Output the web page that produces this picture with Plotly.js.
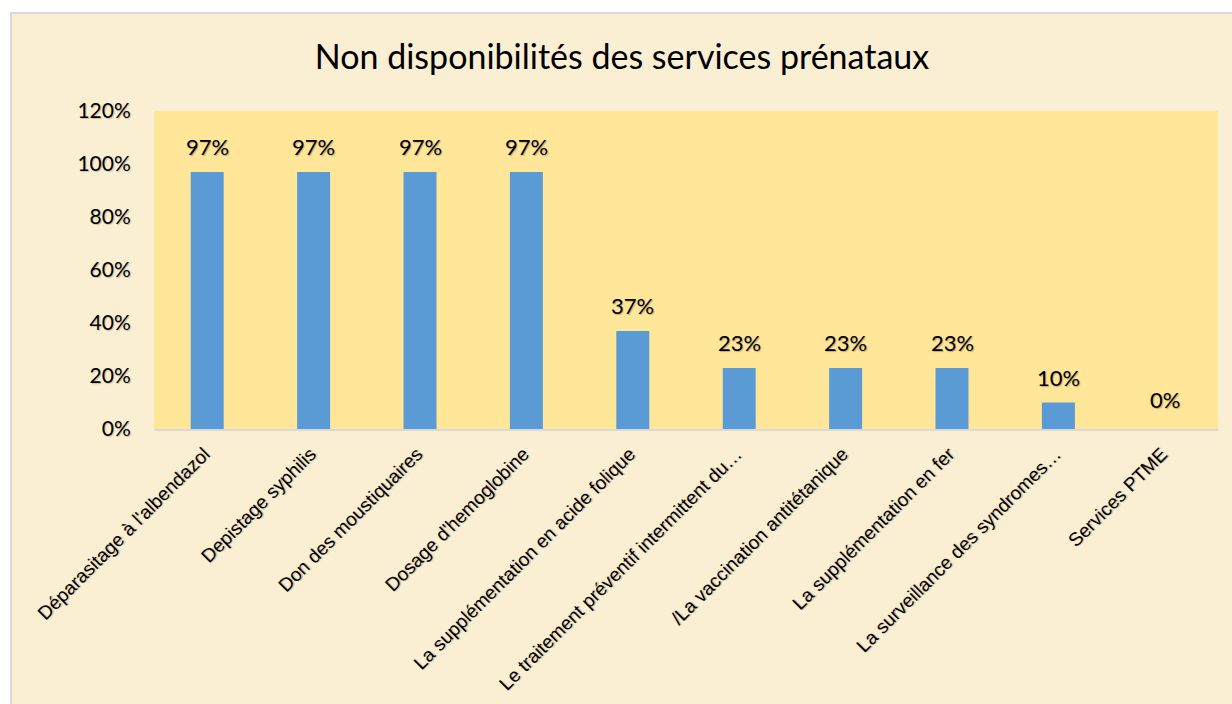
<!DOCTYPE html>
<html>
<head>
<meta charset="utf-8">
<script src="https://cdn.plot.ly/plotly-3.0.1.min.js"></script>
<style>
  html, body { margin: 0; padding: 0; background: #ffffff; width: 1232px; height: 704px; overflow: hidden; }
  #frame { position: absolute; left: 10px; top: 12px; width: 1222px; height: 692px; box-sizing: border-box; border-left: 2px solid #d9d9d9; border-top: 2px solid #d9d9d9; background: #FAEED3; }
  #chart { position: absolute; left: 0; top: 0; width: 1220px; height: 690px; }
</style>
</head>
<body>
<div id="frame"><div id="chart"></div></div>
<script>
const categories = [
  "Déparasitage à l'albendazol",
  "Depistage syphilis",
  "Don des moustiquaires",
  "Dosage d'hemoglobine",
  "La supplémentation en acide folique",
  "Le traitement préventif intermittent du…",
  "/La vaccination antitétanique",
  "La supplémentation en fer",
  "La surveillance des syndromes…",
  "Services PTME"
];
const values = [0.97, 0.97, 0.97, 0.97, 0.37, 0.23, 0.23, 0.23, 0.10, 0.00];
const valueLabels = ["97%", "97%", "97%", "97%", "37%", "23%", "23%", "23%", "10%", "0%"];
const yTicks = [0, 0.2, 0.4, 0.6, 0.8, 1.0, 1.2];
const yTickLabels = ["0%", "20%", "40%", "60%", "80%", "100%", "120%"];
const chartTitle = "Non disponibilités des services prénataux";

const calibriLike = 'Lato, "Open Sans", sans-serif';

const trace = {
  type: 'bar',
  x: categories,
  y: values,
  marker: { color: '#5B9BD5' },
  hoverinfo: 'none'
};

const annotations = categories.map((c, i) => ({
  x: c,
  y: values[i],
  xref: 'x',
  yref: 'y',
  text: valueLabels[i],
  showarrow: false,
  xanchor: 'center',
  yanchor: 'bottom',
  yshift: values[i] === 0 ? 14 : 10,
  font: { family: calibriLike, size: 22, color: '#000000', shadow: '1px 1px 1px rgba(0,0,0,0.25)' }
}));

const layout = {
  width: 1220,
  height: 690,
  paper_bgcolor: 'rgba(0,0,0,0)',
  plot_bgcolor: '#FFE699',
  margin: { l: 142, r: 14, t: 97, b: 275 },
  bargap: 0.69,
  showlegend: false,
  annotations: annotations,
  title: {
    text: chartTitle,
    font: { family: calibriLike, size: 34, color: '#000000' },
    x: 0.5, xanchor: 'center', y: 0.937, yanchor: 'middle'
  },
  xaxis: {
    type: 'category',
    tickangle: -45,
    tickfont: { family: '"Liberation Sans", Arial, sans-serif', size: 19, color: '#000000', shadow: '1px 1px 1px rgba(0,0,0,0.2)' },
    ticklabelshift: -3,
    ticklabelstandoff: 5,
    showgrid: false,
    showline: true,
    linecolor: '#D9D9D9',
    linewidth: 1.5,
    ticks: '',
    automargin: false
  },
  yaxis: {
    range: [0, 1.2],
    tickvals: yTicks,
    ticktext: yTickLabels,
    tickfont: { family: calibriLike, size: 21, color: '#000000', shadow: '1px 1px 1px rgba(0,0,0,0.2)' },
    showgrid: false,
    zeroline: false,
    showline: false,
    ticks: 'outside',
    ticklen: 18,
    tickcolor: 'rgba(0,0,0,0)',
    automargin: false
  }
};

Plotly.newPlot('chart', [trace], layout, { staticPlot: true, displayModeBar: false });
</script>
</body>
</html>
